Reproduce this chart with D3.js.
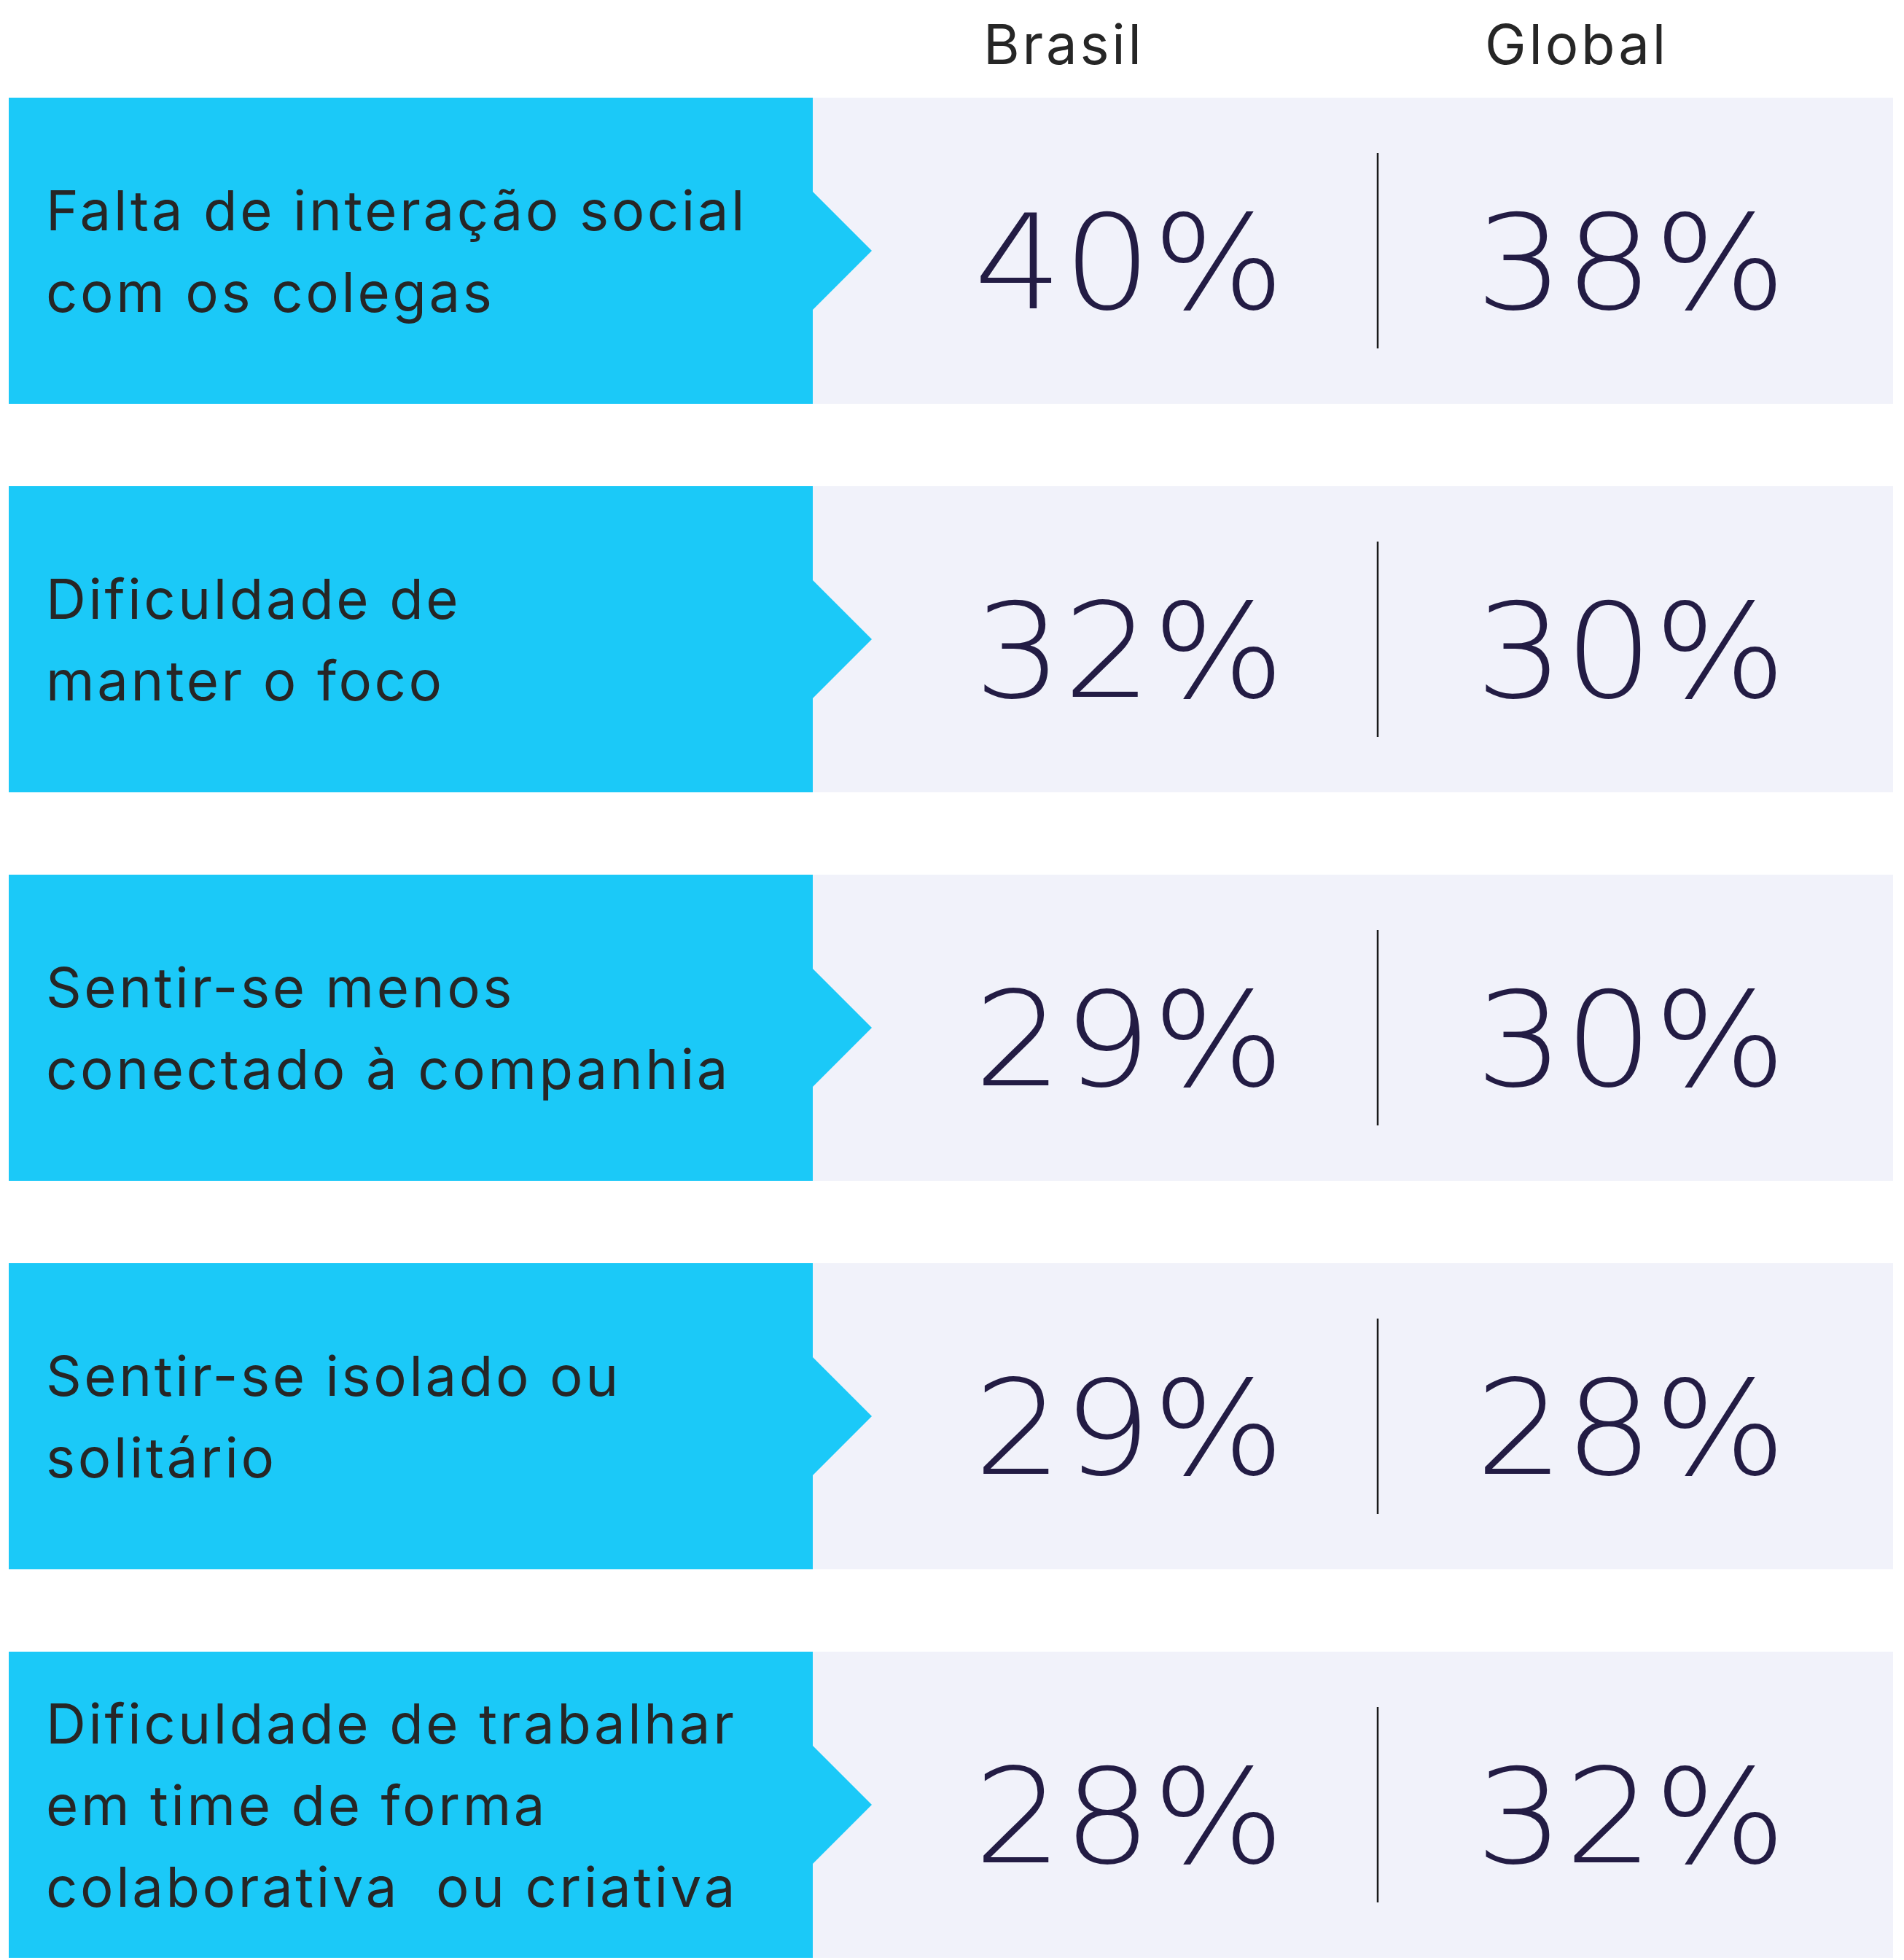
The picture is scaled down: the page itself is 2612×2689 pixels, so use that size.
<!DOCTYPE html>
<html>
<head>
<meta charset="utf-8">
<script src="https://cdn.jsdelivr.net/npm/d3@7"></script>
<style>
  html, body { margin: 0; padding: 0; background: #fff; }
</style>
</head>
<body>
<div id="chartArea"></div>
<script>
// data
const categories = [
  'Falta de interação social com os colegas',
  'Dificuldade de manter o foco',
  'Sentir-se menos conectado à companhia',
  'Sentir-se isolado ou solitário',
  'Dificuldade de trabalhar em time de forma colaborativa  ou criativa'
];
const labelLines = [
  ['Falta de interação social', 'com os colegas'],
  ['Dificuldade de', 'manter o foco'],
  ['Sentir-se menos', 'conectado à companhia'],
  ['Sentir-se isolado ou', 'solitário'],
  ['Dificuldade de trabalhar', 'em time de forma', 'colaborativa  ou criativa']
];
const columns = ['Brasil', 'Global'];
const brasil = [40, 32, 29, 29, 28];
const global = [38, 30, 30, 28, 32];

const width = 2612, height = 2689;
const cyan = '#1bc9f8', panel = '#f1f2fa', ink = '#262626', navy = '#231c44';

const svg = d3.select('#chartArea').append('svg')
  .attr('width', width)
  .attr('height', height)
  .style('display', 'block');

// rows: step 533, band 420
const y = d3.scaleBand()
  .domain(categories)
  .range([134, 134 + 533 * 4 + 420])
  .paddingInner(113 / 533)
  .paddingOuter(0);

const x = d3.scaleBand()
  .domain(columns)
  .range([1202, 2578]);

const leftX = 12, splitX = 1115, rightX = 2597, tip = 81;
const labelFont = 'Inter, "Liberation Sans", sans-serif';

const rows = svg.selectAll('g.row')
  .data(categories.map((c, i) => ({ c, i, lines: labelLines[i], v: [brasil[i], global[i]] })))
  .enter().append('g')
  .attr('class', 'row')
  .attr('transform', d => `translate(0,${y(d.c)})`);

const bh = y.bandwidth();

rows.append('rect')
  .attr('x', splitX)
  .attr('y', 0)
  .attr('width', rightX - splitX)
  .attr('height', bh)
  .attr('fill', panel);

rows.append('path')
  .attr('fill', cyan)
  .attr('d', () => {
    const p = d3.path();
    p.moveTo(leftX, 0);
    p.lineTo(splitX, 0);
    p.lineTo(splitX, bh / 2 - tip);
    p.lineTo(splitX + tip, bh / 2);
    p.lineTo(splitX, bh / 2 + tip);
    p.lineTo(splitX, bh);
    p.lineTo(leftX, bh);
    p.closePath();
    return p.toString();
  });

// label lines
rows.each(function (d) {
  const g = d3.select(this);
  const n = d.lines.length;
  g.selectAll('text.lbl')
    .data(d.lines)
    .enter().append('text')
    .attr('class', 'lbl')
    .attr('x', 63)
    .attr('y', (l, j) => bh / 2 + 28 + (j - (n - 1) / 2) * 112)
    .attr('fill', ink)
    .style('font-family', labelFont)
    .style('font-size', '76px')
    .style('letter-spacing', '3.6px')
    .style('white-space', 'pre')
    .text(l => l);
});

// divider
rows.append('line')
  .attr('x1', x('Global'))
  .attr('x2', x('Global'))
  .attr('y1', bh / 2 - 134)
  .attr('y2', bh / 2 + 134)
  .attr('stroke', '#1a1a1a')
  .attr('stroke-width', 2.5);

// values
rows.selectAll('text.val')
  .data(d => d.v.map((v, k) => ({ v, col: columns[k] })))
  .enter().append('text')
  .attr('class', 'val')
  .attr('transform', d => `translate(${x(d.col) + 134},${bh / 2 + 79}) scale(1.06,1)`)
  .attr('fill', navy)
  .style('font-family', '"DejaVu Sans", sans-serif')
  .style('font-weight', 200)
  .style('font-size', '180px')
  .style('letter-spacing', '1px')
  .text(d => d.v + '%');

// headers
svg.selectAll('text.hdr')
  .data(columns)
  .enter().append('text')
  .attr('class', 'hdr')
  .attr('x', d => x(d) + 147)
  .attr('y', 88)
  .attr('fill', ink)
  .style('font-family', labelFont)
  .style('font-size', '76px')
  .style('letter-spacing', '3.8px')
  .text(d => d);
</script>
</body>
</html>
